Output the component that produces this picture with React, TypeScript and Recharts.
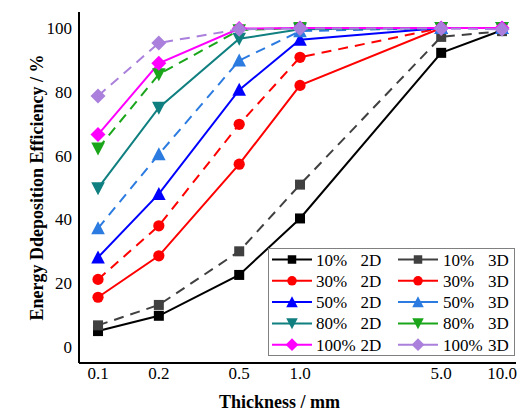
import React from 'react';
import { LineChart, Line, XAxis, YAxis, Legend } from 'recharts';

// ---- data ----
const thickness = [0.1, 0.2, 0.5, 1.0, 5.0, 10.0];
const xTicks = [0.1, 0.2, 0.5, 1.0, 5.0, 10.0];
const yTicks = [0, 20, 40, 60, 80, 100];
const yMinorTicks = [10, 30, 50, 70, 90];

const p10_2D = [5.0, 9.8, 22.6, 40.3, 92.2, 99.3];
const p10_3D = [6.8, 13.2, 30.0, 50.9, 97.2, 99.0];
const p30_2D = [15.6, 28.6, 57.3, 82.0, 100, 100];
const p30_3D = [21.2, 38.0, 69.8, 90.8, 100, 100];
const p50_2D = [28.1, 48.0, 80.6, 96.3, 100, 100];
const p50_3D = [37.2, 60.4, 89.8, 99.0, 100, 100];
const p80_2D = [49.8, 75.0, 96.6, 99.6, 100, 100];
const p80_3D = [62.2, 85.5, 99.3, 100, 100, 100];
const p100_2D = [66.6, 88.9, 99.8, 100, 100, 100];
const p100_3D = [78.7, 95.3, 99.6, 99.8, 99.8, 99.6];

const percents = ['10%', '30%', '50%', '80%', '100%'];
const dims = ['2D', '3D'];

type Shape = 'square' | 'circle' | 'up' | 'down' | 'diamond';

const series = [
  { key: 's10_2D', values: p10_2D, pct: '10%', dim: '2D', color: '#000000', dashed: false, shape: 'square' as Shape },
  { key: 's10_3D', values: p10_3D, pct: '10%', dim: '3D', color: '#404040', dashed: true, shape: 'square' as Shape },
  { key: 's30_2D', values: p30_2D, pct: '30%', dim: '2D', color: '#ff0000', dashed: false, shape: 'circle' as Shape },
  { key: 's30_3D', values: p30_3D, pct: '30%', dim: '3D', color: '#ff0000', dashed: true, shape: 'circle' as Shape },
  { key: 's50_2D', values: p50_2D, pct: '50%', dim: '2D', color: '#0000ff', dashed: false, shape: 'up' as Shape },
  { key: 's50_3D', values: p50_3D, pct: '50%', dim: '3D', color: '#2b7be0', dashed: true, shape: 'up' as Shape },
  { key: 's80_2D', values: p80_2D, pct: '80%', dim: '2D', color: '#0f7f7f', dashed: false, shape: 'down' as Shape },
  { key: 's80_3D', values: p80_3D, pct: '80%', dim: '3D', color: '#1aa51a', dashed: true, shape: 'down' as Shape },
  { key: 's100_2D', values: p100_2D, pct: '100%', dim: '2D', color: '#ff00ff', dashed: false, shape: 'diamond' as Shape },
  { key: 's100_3D', values: p100_3D, pct: '100%', dim: '3D', color: '#aa80dc', dashed: true, shape: 'diamond' as Shape },
];

const tableData = thickness.map((x, i) => {
  const row: Record<string, number> = { x };
  series.forEach((s) => {
    row[s.key] = s.values[i];
  });
  return row;
});

// minor ticks: 7 evenly spaced between each pair of major ticks
const xMinorTicks: number[] = [];
for (let i = 0; i < xTicks.length - 1; i++) {
  const a = xTicks[i];
  const b = xTicks[i + 1];
  for (let k = 1; k < 8; k++) xMinorTicks.push(a + ((b - a) * k) / 8);
}

const FONT = 'Liberation Serif';
const X_DOMAIN: [number, number] = [0.0805, 11.73];
const Y_DOMAIN: [number, number] = [-5, 105];

function Marker({ cx, cy, shape, color, scale = 1 }: { cx: number; cy: number; shape: Shape; color: string; scale?: number }) {
  if (cx == null || cy == null || isNaN(cx) || isNaN(cy)) return null;
  const s = scale;
  switch (shape) {
    case 'square': {
      const h = 5 * s;
      return <rect x={cx - h} y={cy - h} width={2 * h} height={2 * h} fill={color} />;
    }
    case 'circle':
      return <circle cx={cx} cy={cy} r={5.6 * s} fill={color} />;
    case 'up': {
      const w = 6.8 * s;
      const h = 6 * s;
      return <polygon points={`${cx},${cy - h - 1 * s} ${cx + w},${cy + h} ${cx - w},${cy + h}`} fill={color} />;
    }
    case 'down': {
      const w = 6.8 * s;
      const h = 6 * s;
      return <polygon points={`${cx},${cy + h + 1 * s} ${cx + w},${cy - h} ${cx - w},${cy - h}`} fill={color} />;
    }
    case 'diamond':
    default: {
      const r = 7.5 * s;
      return <polygon points={`${cx},${cy - r} ${cx + r},${cy} ${cx},${cy + r} ${cx - r},${cy}`} fill={color} />;
    }
  }
}

const LEG_W = 247;
const LEG_H = 108;

function renderLegend() {
  const rowY = (i: number) => 11.5 + i * 21.3;
  const cols = [
    { lineX1: 4, lineX2: 44, textX: 48, dimX: 92.5 },
    { lineX1: 130, lineX2: 170, textX: 175, dimX: 220 },
  ];
  return (
    <svg width={LEG_W} height={LEG_H} style={{ display: 'block', background: '#fff' }}>
      <rect x={0.5} y={0.5} width={LEG_W - 1} height={LEG_H - 1} fill="#fff" stroke="#808080" strokeWidth={1} />
      {series.map((s) => {
        const row = percents.indexOf(s.pct);
        const col = dims.indexOf(s.dim);
        const c = cols[col];
        const y = rowY(row);
        const mx = (c.lineX1 + c.lineX2) / 2;
        return (
          <g key={s.key}>
            <line x1={c.lineX1} x2={c.lineX2} y1={y} y2={y} stroke={s.color} strokeWidth={2} />
            <Marker cx={mx} cy={y} shape={s.shape} color={s.color} scale={0.85} />
            <text x={c.textX} y={y + 6} style={{ fontFamily: FONT, fontSize: 17, fill: '#000' }}>
              {s.pct}
            </text>
            <text x={c.dimX} y={y + 6} style={{ fontFamily: FONT, fontSize: 17, fill: '#000' }}>
              {s.dim}
            </text>
          </g>
        );
      })}
    </svg>
  );
}

const tickStyle = { fontFamily: FONT, fontSize: 17, fill: '#000', style: { fontFamily: FONT } };
const axisLine = { stroke: '#000', strokeWidth: 2 };
const tickLineStyle = { stroke: '#000', strokeWidth: 1.5 };

export default function App() {
  return (
    <div style={{ fontFamily: FONT, width: 512, height: 405 }}>
      <LineChart
        width={512}
        height={405}
        data={tableData}
        margin={{ top: 4, right: 4, bottom: 0, left: 0 }}
        style={{ fontFamily: FONT }}
      >
        {/* bottom axis with labels */}
        <XAxis
          xAxisId="main"
          dataKey="x"
          type="number"
          scale="log"
          domain={X_DOMAIN}
          allowDataOverflow
          ticks={xTicks}
          tickFormatter={(v: number) => v.toFixed(1)}
          tick={tickStyle}
          tickLine={false}
          tickSize={0}
          tickMargin={4}
          axisLine={axisLine}
          height={50}
          interval={0}
          label={{
            value: 'Thickness / mm',
            position: 'center',
            dx: -18,
            dy: 14,
            style: { fontFamily: FONT, fontSize: 18, fontWeight: 'bold', fill: '#000' },
          }}
        />
        {/* inward major ticks on x */}
        <XAxis
          xAxisId="majorTicks"
          type="number"
          scale="log"
          domain={X_DOMAIN}
          allowDataOverflow
          ticks={xTicks}
          interval={0}
          tick={false}
          tickLine={tickLineStyle}
          tickSize={6}
          axisLine={false}
          mirror
          height={0}
        />
        {/* inward minor ticks on x */}
        <XAxis
          xAxisId="minorTicks"
          type="number"
          scale="log"
          domain={X_DOMAIN}
          allowDataOverflow
          ticks={xMinorTicks}
          interval={0}
          tick={false}
          tickLine={tickLineStyle}
          tickSize={3}
          axisLine={false}
          mirror
          height={0}
        />
        {/* top frame */}
        <XAxis
          xAxisId="top"
          orientation="top"
          type="number"
          scale="log"
          domain={X_DOMAIN}
          allowDataOverflow
          ticks={xTicks}
          tick={false}
          tickLine={false}
          axisLine={axisLine}
          height={0}
        />
        {/* left axis with labels */}
        <YAxis
          yAxisId="main"
          type="number"
          domain={Y_DOMAIN}
          allowDataOverflow
          ticks={yTicks}
          interval={0}
          tick={tickStyle}
          tickLine={false}
          tickSize={0}
          tickMargin={7}
          axisLine={axisLine}
          width={71}
          label={{
            value: 'Energy Ddeposition Efficiency / %',
            angle: -90,
            position: 'center',
            dx: -7,
            style: { fontFamily: FONT, fontSize: 18, fontWeight: 'bold', fill: '#000', textAnchor: 'middle' },
          }}
        />
        <YAxis
          yAxisId="majorTicks"
          type="number"
          domain={Y_DOMAIN}
          allowDataOverflow
          ticks={yTicks}
          interval={0}
          tick={false}
          tickLine={tickLineStyle}
          tickSize={6}
          axisLine={false}
          mirror
          width={0}
        />
        <YAxis
          yAxisId="minorTicks"
          type="number"
          domain={Y_DOMAIN}
          allowDataOverflow
          ticks={yMinorTicks}
          interval={0}
          tick={false}
          tickLine={tickLineStyle}
          tickSize={3}
          axisLine={false}
          mirror
          width={0}
        />
        <YAxis
          yAxisId="right"
          orientation="right"
          type="number"
          domain={Y_DOMAIN}
          allowDataOverflow
          ticks={yTicks}
          tick={false}
          tickLine={false}
          axisLine={axisLine}
          width={0}
        />
        {series.map((s) => (
          <Line
            key={s.key}
            xAxisId="main"
            yAxisId="main"
            dataKey={s.key}
            name={`${s.pct} ${s.dim}`}
            type="linear"
            stroke={s.color}
            strokeWidth={2}
            strokeDasharray={s.dashed ? '10 7' : undefined}
            isAnimationActive={false}
            activeDot={false}
            dot={(p: any) => (
              <g key={`${s.key}-${p.index}`}>
                <Marker cx={p.cx} cy={p.cy} shape={s.shape} color={s.color} />
              </g>
            )}
          />
        ))}
        <Legend
          layout="vertical"
          align="center"
          verticalAlign="middle"
          content={renderLegend}
          wrapperStyle={{ left: 260, top: 240, width: LEG_W, height: LEG_H }}
        />
      </LineChart>
    </div>
  );
}
